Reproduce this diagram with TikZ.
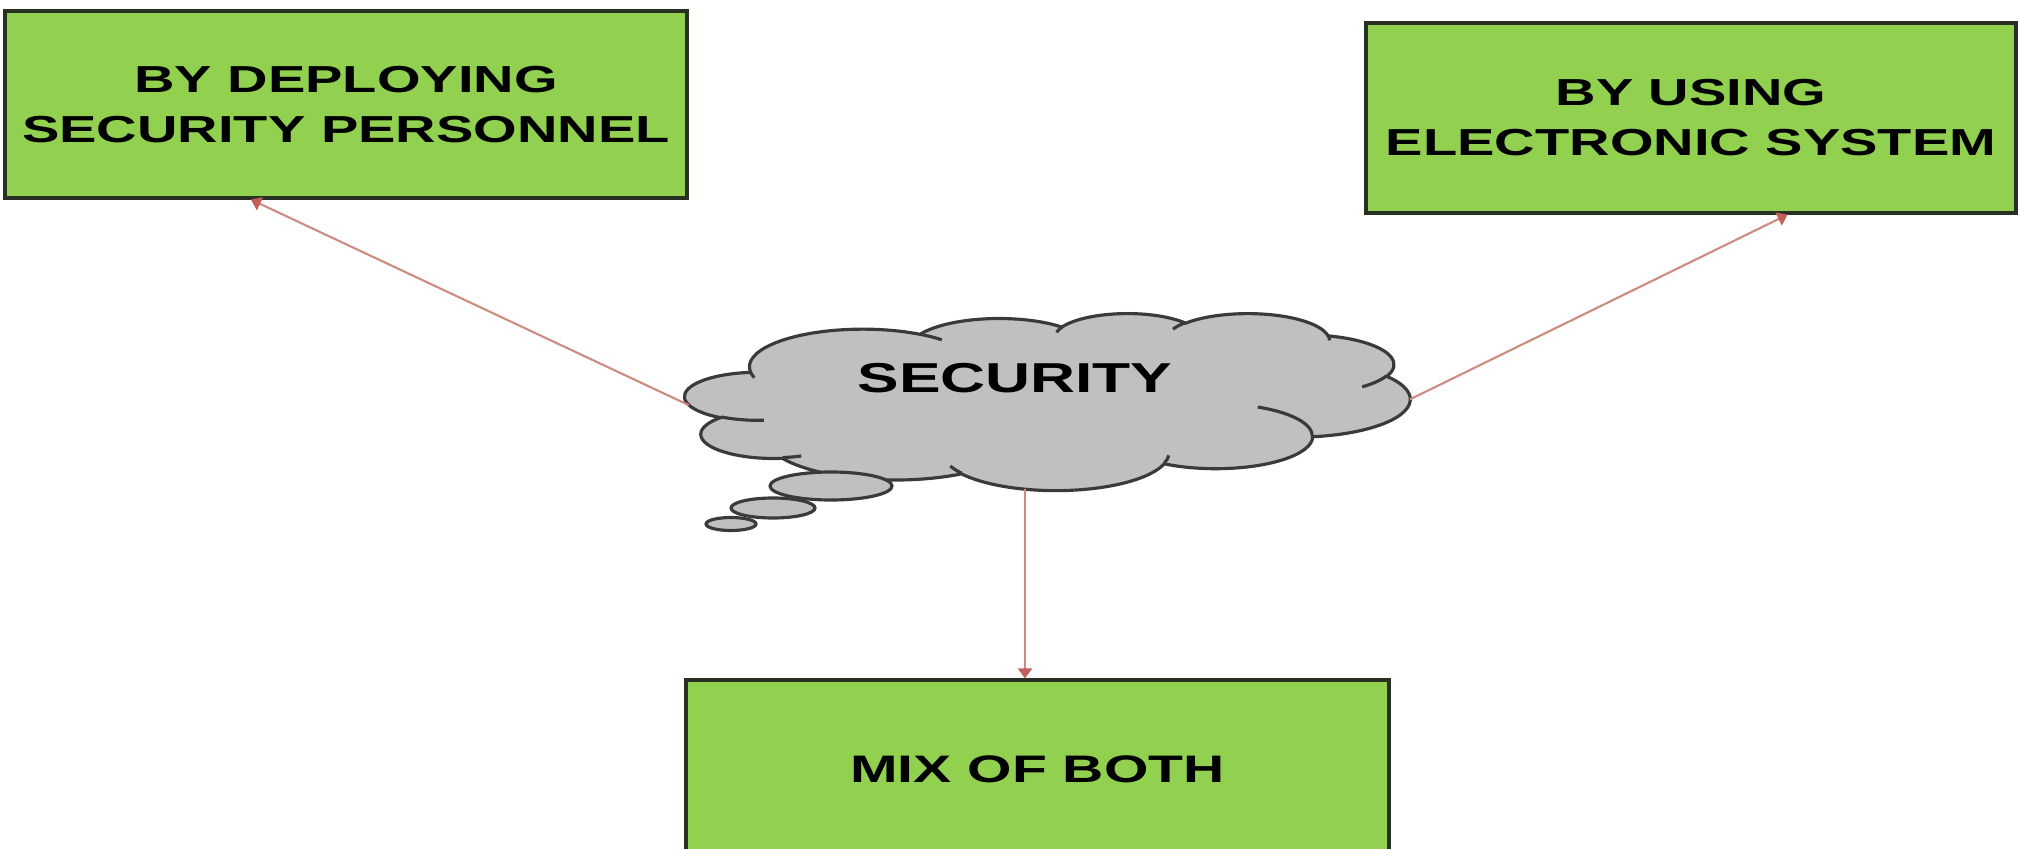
\documentclass[tikz,border=0pt]{standalone}
\usepackage{fontspec}
\newfontfamily\labelfont[FakeStretch=1.49]{Liberation Sans}
\usetikzlibrary{arrows.meta}

\definecolor{boxgreen}{RGB}{146,208,80}
\definecolor{boxedge}{RGB}{40,48,36}
\definecolor{cloudgray}{RGB}{192,192,192}
\definecolor{cloudedge}{RGB}{58,58,58}
\definecolor{linkred}{RGB}{205,140,130}
\definecolor{headred}{RGB}{195,95,90}

\begin{document}
\begin{tikzpicture}[
    option/.style={draw=boxedge, fill=boxgreen, line width=0.9pt, align=center, inner sep=0pt,
                   font=\labelfont\bfseries\fontsize{10.7}{14.2}\selectfont},
    link/.style={draw=linkred, line width=0.6pt, -{Triangle[length=0.1cm, width=0.14cm, color=headred]}},
    cloudarc/.style n args={4}{insert path={arc[x radius=#1, y radius=#2,
        start angle={atan2(#1*sin(#3),#2*cos(#3))},
        delta angle={mod(atan2(#1*sin(#3+#4),#2*cos(#3+#4))-atan2(#1*sin(#3),#2*cos(#3))+720,360)}]}}
]
    \useasboundingbox (0,0) rectangle (20.18,-8.49);

    % the three ways
    \node[option, minimum width=6.82cm, minimum height=1.87cm] (perspers) at (3.46,-1.045) {BY DEPLOYING\\SECURITY PERSONNEL};
    \node[option, minimum width=6.50cm, minimum height=1.90cm] (elecsys) at (16.91,-1.18) {BY USING\\ELECTRONIC SYSTEM};
    \node[option, minimum width=7.03cm, minimum height=1.78cm,
          font=\labelfont\bfseries\fontsize{10.9}{14}\selectfont] (mixboth) at (10.375,-7.69) {MIX OF BOTH};

    % cloud callout, drawn in a 43.2 x 43.2 frame
    \begin{scope}[shift={(6.85,-3.13)}, xscale=0.16782, yscale=-0.04097]
        \coordinate (cloudW) at (0.23,22.5);
        \coordinate (cloudE) at (43.2,21.08);
        \coordinate (cloudS) at (20.26,43.0);

        \filldraw[fill=cloudgray, draw=cloudedge, line width=0.9pt]
            (3.9,14.37) [cloudarc={6.753}{9.19}{-190.4875}{123.7805}]
            [cloudarc={5.333}{7.267}{-144.1024}{89.9452}]
            [cloudarc={4.365}{5.945}{-145.8079}{99.723}]
            [cloudarc={4.857}{6.595}{-130.9861}{117.2417}]
            [cloudarc={5.333}{7.273}{-78.7089}{109.0269}]
            [cloudarc={6.775}{9.22}{-46.2673}{130.269}]
            [cloudarc={5.785}{7.867}{0.625}{114.0333}]
            [cloudarc={6.752}{9.215}{22.4516}{115.1726}]
            [cloudarc={7.72}{10.543}{66.2426}{75.711}]
            [cloudarc={4.36}{5.918}{-274.9421}{146.7356}]
            [cloudarc={4.345}{5.945}{-246.8285}{152.5189}] -- cycle;

        % inner folds
        \draw[cloudedge, line width=0.9pt]
            (4.693,26.177) [cloudarc={4.345}{5.945}{86.742}{26.4295}]
            (6.928,34.899) [cloudarc={4.36}{5.918}{73.6105}{11.4475}]
            (16.478,39.09) [cloudarc={6.752}{9.215}{137.6242}{14.0811}]
            (28.827,34.751) [cloudarc={6.752}{9.215}{6.4533}{15.9984}]
            (34.129,22.954) [cloudarc={5.785}{7.867}{-70.2924}{70.9174}]
            (41.798,15.354) [cloudarc={5.333}{7.273}{30.318}{27.7515}]
            (38.324,5.426) [cloudarc={4.857}{6.595}{-13.7443}{14.8589}]
            (29.078,3.952) [cloudarc={4.857}{6.595}{-149.1815}{18.1954}]
            (22.141,4.72) [cloudarc={4.365}{5.945}{-163.4943}{17.6864}]
            (14,5.192) [cloudarc={6.753}{9.19}{-66.707}{12.3194}]
            (4.127,15.789) [cloudarc={6.753}{9.19}{157.6544}{11.8582}];
    \end{scope}

    % thought bubbles
    \filldraw[fill=cloudgray, draw=cloudedge, line width=0.9pt] (8.31,-4.86) ellipse [x radius=0.61, y radius=0.14];
    \filldraw[fill=cloudgray, draw=cloudedge, line width=0.9pt] (7.73,-5.08) ellipse [x radius=0.42, y radius=0.10];
    \filldraw[fill=cloudgray, draw=cloudedge, line width=0.9pt] (7.31,-5.24) ellipse [x radius=0.25, y radius=0.065];

    \node[font=\labelfont\bfseries\fontsize{11.9}{14}\selectfont] (security) at (10.15,-3.78) {SECURITY};

    % connectors
    \draw[link] (cloudW) -- (perspers.-135);
    \draw[link] (cloudE) -- (elecsys.-45);
    \draw[link] (cloudS) -- (cloudS |- mixboth.north);
\end{tikzpicture}
\end{document}
